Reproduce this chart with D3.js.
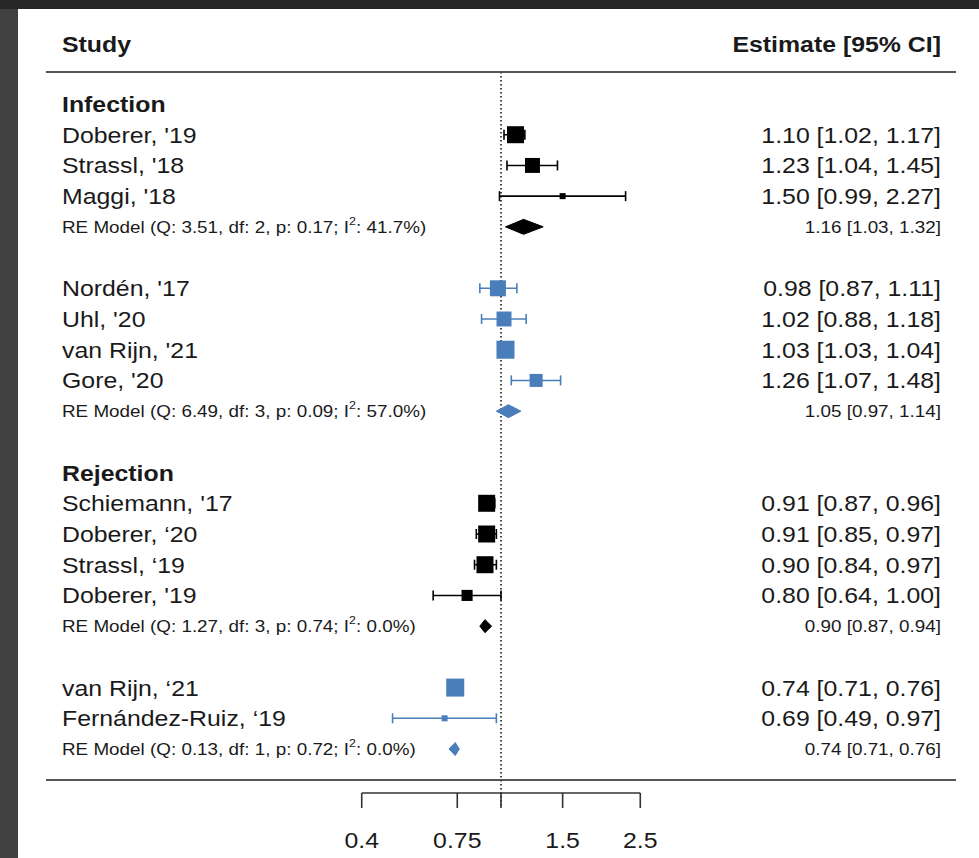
<!DOCTYPE html>
<html>
<head>
<meta charset="utf-8">
<script src="https://cdn.jsdelivr.net/npm/d3@7"></script>
<style>
  body { margin: 0; background: #262626; }
  svg { display: block; font-family: "Liberation Sans", Arial, Helvetica, sans-serif; }
</style>
</head>
<body>
<div id="chart"></div>
<script>
// Données des études
const studyNames = ["Doberer, '19", "Strassl, '18", "Maggi, '18",
  "Nordén, '17", "Uhl, '20", "van Rijn, '21", "Gore, '20",
  "Schiemann, '17", "Doberer, \u201820", "Strassl, \u201819", "Doberer, '19",
  "van Rijn, \u201821", "Fernández-Ruiz, \u201819"];
const estimates = [1.10, 1.23, 1.50, 0.98, 1.02, 1.03, 1.26, 0.91, 0.91, 0.90, 0.80, 0.74, 0.69];
const ciLower   = [1.02, 1.04, 0.99, 0.87, 0.88, 1.03, 1.07, 0.87, 0.85, 0.84, 0.64, 0.71, 0.49];
const ciUpper   = [1.17, 1.45, 2.27, 1.11, 1.18, 1.04, 1.48, 0.96, 0.97, 0.97, 1.00, 0.76, 0.97];
const weights   = [80, 62, 10, 71, 62, 90, 47, 80, 80, 80, 34, 90, 10];
const studyGroup = [0, 0, 0, 1, 1, 1, 1, 2, 2, 2, 2, 3, 3];

// Sous-groupes et modèles à effets aléatoires
const groupHeaders = ["Infection", null, "Rejection", null];
const groupColors  = ["#000000", "#4a7ebb", "#000000", "#4a7ebb"];
const pooledEst   = [1.16, 1.05, 0.90, 0.74];
const pooledLower = [1.03, 0.97, 0.87, 0.71];
const pooledUpper = [1.32, 1.14, 0.94, 0.76];
const pooledQ  = ["3.51", "6.49", "1.27", "0.13"];
const pooledDf = [2, 3, 3, 1];
const pooledP  = ["0.17", "0.09", "0.74", "0.72"];
const pooledI2 = ["41.7", "57.0", "0.0", "0.0"];

const axisTicks = [0.4, 0.75, 1, 1.5, 2.5];
const axisLabels = ["0.4", "0.75", "", "1.5", "2.5"];

// Dimensions
const W = 979, H = 858;
const sx = 1.13; // étirement horizontal du texte
const fmt = d3.format(".2f");

const svg = d3.select("#chart").append("svg")
  .attr("width", W).attr("height", H);

// Fond (cadre sombre)
svg.append("rect").attr("width", W).attr("height", H).attr("fill", "#262626");
svg.append("rect").attr("x", 0).attr("y", 9).attr("width", 18).attr("height", H - 9).attr("fill", "#404040");
svg.append("rect").attr("x", 18).attr("y", 9).attr("width", W - 18).attr("height", H - 9).attr("fill", "#ffffff");

// Construction des lignes
const rows = [];
groupHeaders.forEach((h, g) => {
  if (g > 0) rows.push({ type: "blank" });
  if (h) rows.push({ type: "header", label: h });
  studyNames.forEach((name, i) => {
    if (studyGroup[i] === g) rows.push({ type: "study", i: i, g: g });
  });
  rows.push({ type: "pooled", g: g });
});
rows.forEach((r, k) => r.row = k);

// Échelles
const x = d3.scaleLog()
  .domain([0.4, 2.5])
  .range([501 - 152 * Math.log(2.5), 501 + 152 * Math.log(2.5)]);
const y = d3.scaleLinear().domain([0, rows.length - 1]).range([104, 749]);
const size = d3.scaleSqrt().domain([0, 100]).range([0, 19]);

function addText(sel, px, py, str, opts = {}) {
  return sel.append("text")
    .attr("transform", `translate(${px},${py}) scale(${sx},1)`)
    .attr("text-anchor", opts.anchor || "start")
    .attr("font-size", opts.size || 22)
    .attr("font-weight", opts.bold ? "bold" : "normal")
    .attr("fill", "#1a1a1a")
    .text(str);
}

const labelX = 62, rightX = 941;

// En-têtes
addText(svg, labelX, 52, "Study", { bold: true });
addText(svg, rightX, 52, "Estimate [95% CI]", { bold: true, anchor: "end" });

// Lignes horizontales
[72, 780].forEach(yy => {
  svg.append("line")
    .attr("x1", 46).attr("x2", 956).attr("y1", yy).attr("y2", yy)
    .attr("stroke", "#555").attr("stroke-width", 2);
});

// Ligne de référence
svg.append("line")
  .attr("x1", x(1)).attr("x2", x(1)).attr("y1", 72).attr("y2", 808)
  .attr("stroke", "#444").attr("stroke-width", 2)
  .attr("stroke-dasharray", "1.5,2.5");

// Lignes du tableau
rows.forEach(r => {
  const yy = y(r.row);
  if (r.type === "header") {
    addText(svg, labelX, yy + 8, r.label, { bold: true });
  } else if (r.type === "study") {
    const i = r.i, col = groupColors[r.g];
    addText(svg, labelX, yy + 8, studyNames[i]);
    addText(svg, rightX, yy + 8,
      `${fmt(estimates[i])} [${fmt(ciLower[i])}, ${fmt(ciUpper[i])}]`, { anchor: "end" });
    const g = svg.append("g").attr("stroke", col).attr("stroke-width", 1.6);
    g.append("line").attr("x1", x(ciLower[i])).attr("x2", x(ciUpper[i]))
      .attr("y1", yy).attr("y2", yy);
    [ciLower[i], ciUpper[i]].forEach(v => {
      g.append("line").attr("x1", x(v)).attr("x2", x(v))
        .attr("y1", yy - 5).attr("y2", yy + 5);
    });
    const s = size(weights[i]);
    svg.append("rect")
      .attr("x", x(estimates[i]) - s / 2).attr("y", yy - s / 2)
      .attr("width", s).attr("height", s)
      .attr("fill", col);
  } else if (r.type === "pooled") {
    const g = r.g, col = groupColors[g];
    const t = addText(svg, labelX, yy + 6, null, { size: 16.7 });
    t.append("tspan").text(`RE Model (Q: ${pooledQ[g]}, df: ${pooledDf[g]}, p: ${pooledP[g]}; I`);
    t.append("tspan").attr("font-size", 11).attr("dy", -8).text("2");
    t.append("tspan").attr("dy", 8).text(`: ${pooledI2[g]}%)`);
    addText(svg, rightX, yy + 6,
      `${fmt(pooledEst[g])} [${fmt(pooledLower[g])}, ${fmt(pooledUpper[g])}]`, { anchor: "end", size: 16.7 });
    const h = g === 0 ? 7.5 : 6.5;
    const pts = [[x(pooledLower[g]), yy], [x(pooledEst[g]), yy - h],
                 [x(pooledUpper[g]), yy], [x(pooledEst[g]), yy + h]];
    svg.append("polygon")
      .attr("points", pts.map(p => p.join(",")).join(" "))
      .attr("fill", col).attr("stroke", col).attr("stroke-width", 1);
  }
});

// Axe des x
const axisY = 793;
const axis = svg.append("g").attr("stroke", "#333").attr("stroke-width", 1.6);
axis.append("line")
  .attr("x1", x(axisTicks[0])).attr("x2", x(axisTicks[axisTicks.length - 1]))
  .attr("y1", axisY).attr("y2", axisY);
axisTicks.forEach((v, k) => {
  axis.append("line").attr("x1", x(v)).attr("x2", x(v))
    .attr("y1", axisY).attr("y2", axisY + 15);
  if (axisLabels[k]) addText(svg, x(v), 848, axisLabels[k], { anchor: "middle" });
});
</script>
</body>
</html>
